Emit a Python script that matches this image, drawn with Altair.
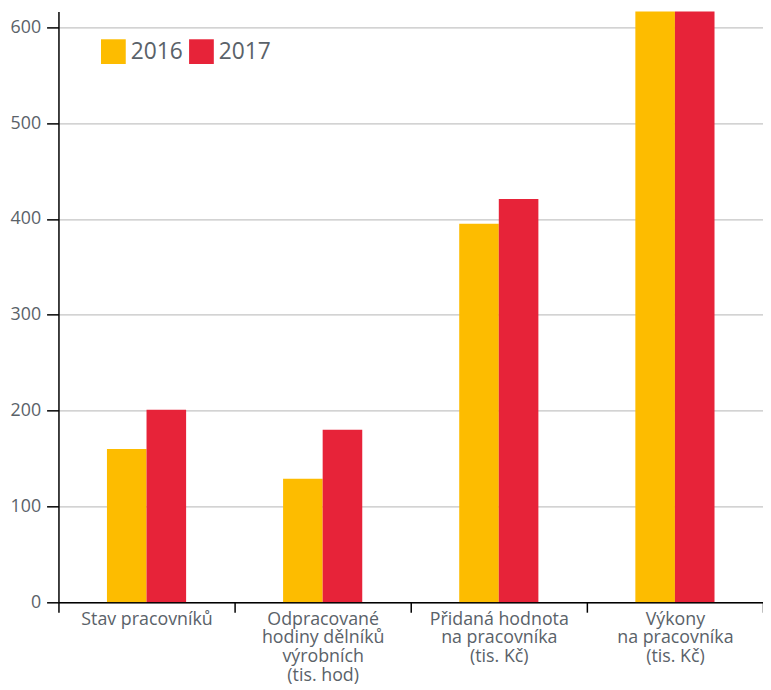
import altair as alt
import pandas as pd

categories = [
    "Stav pracovníků",
    "Odpracované|hodiny dělníků|výrobních|(tis. hod)",
    "Přidaná hodnota|na pracovníka|(tis. Kč)",
    "Výkony|na pracovníka|(tis. Kč)",
]
years = ["2016", "2017"]
values_2016 = [160, 129, 395, 690]
values_2017 = [201, 180, 421, 720]

rows = []
for c, a, b in zip(categories, values_2016, values_2017):
    rows.append({"cat": c, "year": years[0], "value": a})
    rows.append({"cat": c, "year": years[1], "value": b})
df = pd.DataFrame(rows)

TXT = "#5a6269"
FONT = "Open Sans"

chart = (
    alt.Chart(df)
    .mark_bar(clip=True)
    .encode(
        x=alt.X(
            "cat:N",
            sort=categories,
            title=None,
            scale=alt.Scale(paddingInner=0, paddingOuter=0),
            axis=alt.Axis(
                labelAngle=0,
                labelExpr="split(datum.label, '|')",
                labelFontSize=18,
                labelLineHeight=19,
                labelColor=TXT,
                labelFont=FONT,
                labelPadding=-2,
                tickBand="extent",
                tickSize=10,
                tickColor="#000000",
                domainColor="#000000",
                domainWidth=1.5,
                tickWidth=1.5,
                grid=False,
                labelLimit=300,
            ),
        ),
        xOffset=alt.XOffset("year:N", scale=alt.Scale(range=[49, 129], paddingInner=0, paddingOuter=0)),
        y=alt.Y(
            "value:Q",
            title=None,
            scale=alt.Scale(domain=[0, 616.5], nice=False),
            axis=alt.Axis(
                values=[0, 100, 200, 300, 400, 500, 600],
                labelFontSize=18,
                labelColor=TXT,
                labelFont=FONT,
                labelPadding=6,
                tickSize=12,
                tickColor="#000000",
                domainColor="#000000",
                domainWidth=1.5,
                tickWidth=1.5,
                gridColor="#c4c4c4",
                gridWidth=1.2,
            ),
        ),
        color=alt.Color(
            "year:N",
            title=None,
            scale=alt.Scale(domain=years, range=["#FDBC00", "#E72339"]),
            legend=alt.Legend(
                orient="none",
                legendX=43,
                legendY=28,
                direction="horizontal",
                symbolType="square",
                symbolSize=625,
                symbolStrokeWidth=0,
                labelFontSize=23,
                labelColor=TXT,
                labelFont=FONT,
                labelOffset=5,
                columnPadding=6,
                padding=0,
            ),
        ),
    )
    .properties(
        width=712,
        height=597,
        autosize=alt.AutoSizeParams(type="none"),
        padding={"left": 51, "top": 0, "right": 0, "bottom": 85},
    )
    .configure_view(stroke=None)
)

chart.save("out.html", embed_options={"renderer": "svg", "actions": False})
